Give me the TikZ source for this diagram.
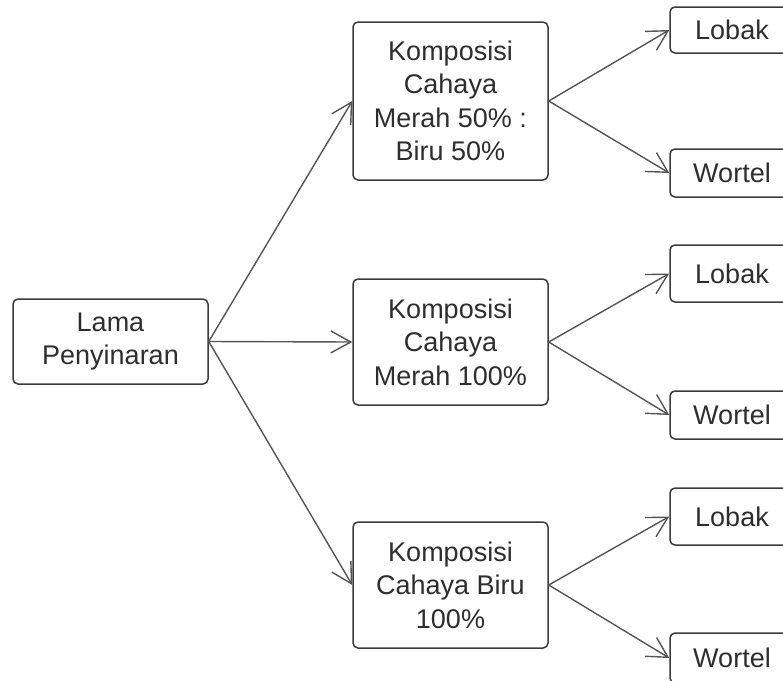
\documentclass[tikz,border=0pt]{standalone}
\usepackage{fontspec}
\setmainfont{Liberation Sans}
\usetikzlibrary{arrows.meta}
\definecolor{boxline}{HTML}{3C3C3C}
\definecolor{boxtext}{HTML}{2E2E2E}
\definecolor{arrline}{HTML}{555555}
\tikzset{
	box/.style={draw=boxline, line width=0.75pt, rounded corners=2.5pt, fill=white,
		align=center, inner sep=0pt, text=boxtext,
		font=\fontsize{13.5}{16.75}\selectfont},
	arr/.style={draw=arrline, line width=0.7pt, -{Straight Barb[length=10pt, width=11pt]}}
}

\begin{document}
\begin{tikzpicture}[x=0.5pt, y=-0.5pt]
		%%%%% START %%%%%
		\useasboundingbox (0, 0) rectangle (783, 681);
		\clip (0, 0) rectangle (783, 681);
		
		\node[box, minimum width=97.5pt, minimum height=42.5pt] (lama) at (110.5, 341.5) {Lama\\Penyinaran};
		
		\node[box, minimum width=97.5pt, minimum height=79pt] (kmb) at (450.5, 101) {Komposisi\\Cahaya\\Merah 50\% :\\Biru 50\%};
		\node[box, minimum width=97.5pt, minimum height=63pt] (km) at (450.5, 342) {Komposisi\\Cahaya\\Merah 100\%};
		\node[box, minimum width=97.5pt, minimum height=63pt] (kb) at (450.5, 585) {Komposisi\\Cahaya Biru\\100\%};
		
		\node[box, minimum width=62pt, minimum height=23pt] (lobaka) at (732, 30) {Lobak};
		\node[box, minimum width=62pt, minimum height=24pt] (wortela) at (732, 173) {Wortel};
		\node[box, minimum width=62pt, minimum height=28.5pt] (lobakb) at (732, 273.5) {Lobak};
		\node[box, minimum width=62pt, minimum height=24pt] (wortelb) at (732, 415) {Wortel};
		\node[box, minimum width=62pt, minimum height=28.5pt] (lobakc) at (732, 516.5) {Lobak};
		\node[box, minimum width=62pt, minimum height=25pt] (wortelc) at (732, 658) {Wortel};
		
		\draw[arr] (lama.east) -- (kmb.west);
		\draw[arr] (lama.east) -- (km.west);
		\draw[arr] (lama.east) -- (kb.west);
		
		\draw[arr] (kmb.east) -- (lobaka.west);
		\draw[arr] (kmb.east) -- (wortela.west);
		\draw[arr] (km.east) -- (lobakb.west);
		\draw[arr] (km.east) -- (wortelb.west);
		\draw[arr] (kb.east) -- (lobakc.west);
		\draw[arr] (kb.east) -- (wortelc.west);
		
		%%%%% END %%%%%
	\end{tikzpicture}
\end{document}
